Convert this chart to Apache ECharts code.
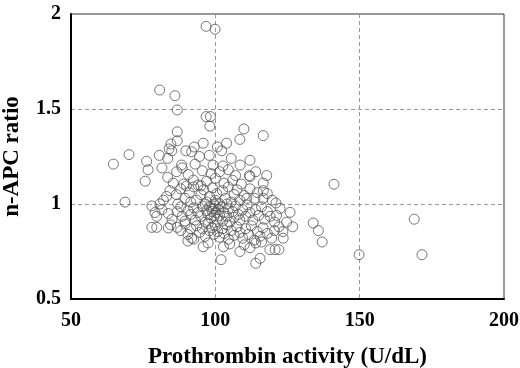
<!DOCTYPE html>
<html>
<head>
<meta charset="utf-8">
<script src="https://cdn.jsdelivr.net/npm/echarts@6/dist/echarts.min.js"></script>
<style>
  html, body { margin: 0; padding: 0; background: #fff; }
  #chart { width: 520px; height: 368px; }
</style>
</head>
<body>
<div id="chart"></div>
<script>
// [prothrombin activity (U/dL), n-APC ratio]
const upperPoints = [
  [96.8,1.935],[99.9,1.92],[80.7,1.60],[86.0,1.57],[86.8,1.495],[96.8,1.46],[98.3,1.46],[98.1,1.41],
  [86.8,1.38],[109.9,1.395],[116.6,1.36],[108.5,1.34],[86.8,1.333],[84.6,1.316],[95.8,1.32],[92.7,1.30],
  [103.9,1.32],[100.7,1.30],[84.0,1.29],[84.9,1.28],[89.8,1.28],[91.8,1.275],[102.2,1.28],[70.1,1.26],
  [80.6,1.256],[97.9,1.256],[76.2,1.225],[64.7,1.21],[88.3,1.205],[93.0,1.21],[99.2,1.205],[102.6,1.20],
  [108.6,1.205],[83.5,1.24],[94.5,1.25],[105.5,1.24],[112,1.23]
]
const highPoints = [
  [76.7,1.18],[75.7,1.12],[86.6,1.17],[90.6,1.155],[92.4,1.126],[85.4,1.11],[81.5,1.19],[88.5,1.19],
  [95.5,1.175],[98.5,1.16],[101.5,1.17],[104.5,1.18],[107,1.15],[111.8,1.15],[117.8,1.15],[83.5,1.14],
  [97,1.12],[100,1.135],[103,1.11],[106,1.125],[109,1.105],[112,1.144],[116.6,1.11],[89,1.105],
  [94,1.10],[141.1,1.104],[114,1.17]
]
const midPoints = [
  [68.7,1.01],[80.8,1.0],[82,1.02],[83.1,1.04],[84.3,1.07],[86.5,1.05],[88,1.08],[89.5,1.03],
  [91,1.06],[92.5,1.09],[93.5,1.02],[95,1.05],[96,1.075],[97,1.01],[98,1.04],[99,1.085],
  [100,1.02],[100.5,1.055],[101.5,1.0],[102.5,1.07],[103.5,1.03],[104.5,1.09],[105.5,1.01],[106.5,1.05],
  [107.5,1.075],[108.5,1.02],[110,1.045],[110.9,1.03],[112,1.08],[113.7,1.03],[114.5,1.06],[116.6,1.07],
  [116.6,1.03],[119.7,1.02],[118,1.055],[121,1.005],[87,1.0],[91.5,1.01],[96.5,1.0],[99.5,1.0],
  [104,1.0],[90,1.095],[95,1.095]
]
const corePoints = [
  [78,0.99],[79.1,0.955],[79.7,0.935],[81.5,0.97],[83.7,0.95],[85,0.92],[86.8,0.96],[88,0.985],
  [88.5,0.935],[89.5,0.91],[90.5,0.965],[91.5,0.945],[92.5,0.98],[93,0.915],[94,0.955],[95,0.935],
  [95.5,0.99],[96.5,0.905],[97,0.965],[97.5,0.945],[98,0.985],[98.5,0.925],[99,0.96],[99.3,0.975],
  [99.6,0.94],[100,0.99],[100.2,0.955],[100.5,0.92],[101,0.97],[101.5,0.94],[102,0.985],[102.5,0.91],
  [103,0.955],[104,0.935],[104.5,0.975],[105,0.905],[106,0.96],[106.5,0.93],[107,0.99],[108,0.945],
  [108.5,0.915],[109.5,0.97],[110.5,0.935],[111,0.995],[112,0.955],[113,0.915],[114,0.97],[115,0.94],
  [116,0.985],[117,0.92],[118,0.96],[119,0.935],[120.5,0.905],[121.2,0.94],[122.4,0.977],[124.7,0.904],
  [125.9,0.956],[133.9,0.90],[168.9,0.92]
]
const lowPoints = [
  [78,0.877],[79.7,0.877],[83.7,0.874],[86.8,0.877],[84.5,0.89],[88,0.86],[89.5,0.895],[90.5,0.84],
  [91.5,0.87],[92.5,0.815],[93.5,0.885],[94.5,0.85],[95.5,0.87],[96.5,0.83],[97.5,0.895],[98,0.86],
  [98.8,0.875],[99.5,0.84],[100,0.885],[100.8,0.855],[101.5,0.825],[102.5,0.87],[103,0.845],[104,0.89],
  [104.5,0.815],[105.5,0.86],[106.5,0.835],[107.5,0.88],[108.5,0.85],[109.5,0.82],[110.5,0.87],[111.5,0.84],
  [112.5,0.885],[113.5,0.81],[114.5,0.855],[115.5,0.83],[116.5,0.875],[118,0.845],[119.5,0.82],[120.5,0.86],
  [122,0.88],[123.4,0.855],[123.5,0.82],[126.8,0.88],[135.7,0.86]
]
const bottomPoints = [
  [91.8,0.82],[90.5,0.805],[95.8,0.775],[97.5,0.795],[102.8,0.775],[105,0.79],[108.5,0.75],[110,0.785],
  [112,0.77],[114,0.795],[116,0.8],[118.9,0.76],[120.7,0.76],[122,0.76],[137,0.80],[102,0.707],
  [114,0.688],[115.5,0.714],[149.8,0.733],[171.6,0.733]
]

const xRange = [50, 200]
const yRange = [0.5, 2]

const allPoints = [].concat(upperPoints, highPoints, midPoints, corePoints, lowPoints, bottomPoints)
const font = 'Liberation Serif'

const chart = echarts.init(document.getElementById('chart'), null, { renderer: 'canvas' })
chart.setOption({
  animation: false,
  grid: {
    left: 71,
    right: 16,
    top: 14,
    bottom: 69,
    containLabel: false,
    outerBoundsMode: 'none',
    show: true,
    borderColor: '#333',
    borderWidth: 1
  },
  xAxis: {
    type: 'value',
    min: xRange[0],
    max: xRange[1],
    interval: 50,
    name: 'Prothrombin activity (U/dL)',
    nameLocation: 'middle',
    nameGap: 47,
    nameTextStyle: { fontFamily: font, fontWeight: 'bold', fontSize: 23, color: '#000' },
    axisLine: { lineStyle: { color: '#000', width: 2 } },
    axisTick: { show: false },
    axisLabel: { fontFamily: font, fontWeight: 'bold', fontSize: 20, color: '#000', margin: 12 },
    splitLine: { show: true, lineStyle: { color: '#999', type: [4, 3], width: 1 } }
  },
  yAxis: {
    type: 'value',
    min: yRange[0],
    max: yRange[1],
    interval: 0.5,
    name: 'n-APC ratio',
    nameLocation: 'middle',
    nameGap: 47,
    nameTextStyle: { fontFamily: font, fontWeight: 'bold', fontSize: 23, color: '#000' },
    axisLine: { lineStyle: { color: '#000', width: 2 } },
    axisTick: { show: false },
    axisLabel: { fontFamily: font, fontWeight: 'bold', fontSize: 20, color: '#000', margin: 10 },
    splitLine: { show: true, lineStyle: { color: '#999', type: [4, 3], width: 1 } }
  },
  series: [
    {
      type: 'scatter',
      symbol: 'circle',
      symbolSize: 10,
      itemStyle: {
        color: 'rgba(0,0,0,0)',
        borderColor: '#555',
        borderWidth: 1
      },
      data: allPoints
    }
  ]
})
</script>
</body>
</html>
